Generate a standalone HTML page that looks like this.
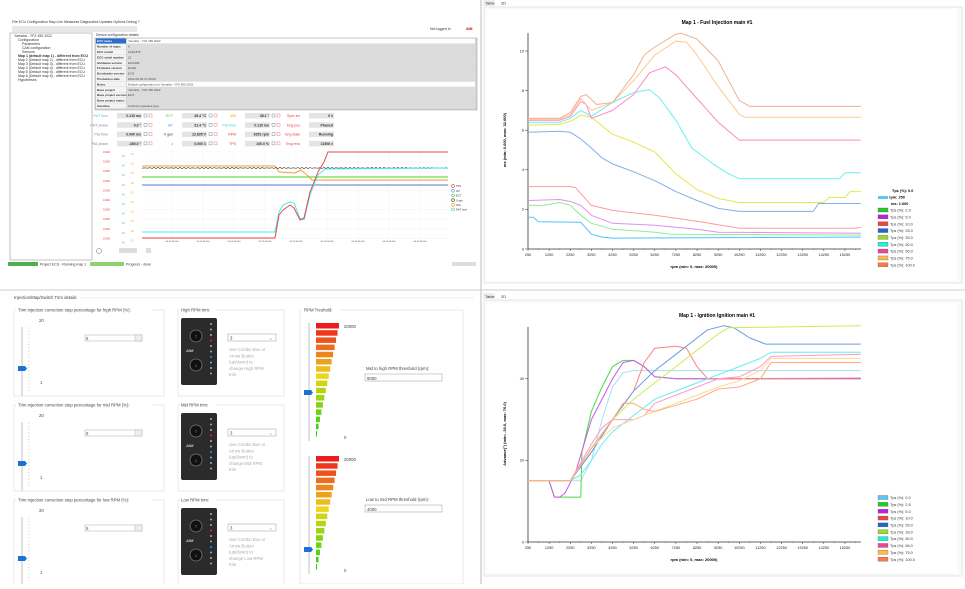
<!DOCTYPE html><html><head><meta charset="utf-8"><style>
body{margin:0;background:#fff;width:965px;height:584px;overflow:hidden;font-family:"Liberation Sans",sans-serif}
svg text{font-family:"Liberation Sans",sans-serif}
</style></head><body>
<svg id="s" width="965" height="584" viewBox="0 0 965 584" xmlns="http://www.w3.org/2000/svg">
<rect width="965" height="584" fill="#fff"/>
<!-- quadrant separators -->
<line x1="481" y1="0" x2="481" y2="584" stroke="#bbb"/>
<line x1="0" y1="290" x2="965" y2="290" stroke="#ccc"/>
<!-- TOP LEFT app -->
<g font-size="3.5" fill="#333">
<text x="12" y="23">File  ECU  Configuration  Map  Live Measures  Diagnostics  Updates  Options  Debug  ?</text>
<rect x="12" y="26" width="125" height="6" fill="#e8e8e8"/>
<text x="430" y="30">Not logged in</text><text x="466" y="30" fill="#d00" font-weight="bold">AIM</text>
<rect x="10" y="33" width="82" height="227" fill="#fff" stroke="#999" stroke-width="0.6"/>
<text x="14" y="37">Yamaha - YFZ 450 2022</text>
<text x="18" y="41">Configuration</text><text x="22" y="45">Parameters</text><text x="22" y="49">CAN configuration</text><text x="22" y="53">Sensors</text>
<text x="18" y="57" font-weight="bold">Map 1 (default map 1) - different from ECU</text>
<text x="18" y="61">Map 2 (Default map 2) - different from ECU</text>
<text x="18" y="65">Map 3 (Default map 3) - different from ECU</text>
<text x="18" y="69">Map 4 (Default map 4) - different from ECU</text>
<text x="18" y="73">Map 5 (Default map 5) - different from ECU</text>
<text x="18" y="77">Map 6 (Default map 6) - different from ECU</text>
<text x="18" y="81">Hypotheses</text>
<text x="96" y="36">Device configuration details</text>
<rect x="95" y="38" width="382" height="72" fill="#d6d6d6" stroke="#999" stroke-width="0.5"/>
</g>
<g id="tbl"></g>
<g id="gau" font-size="3.5"></g>
<g id="tlc"></g>
<g font-size="3.5" fill="#333">
<rect x="8" y="262" width="30" height="4" fill="#4caf50"/><rect x="90" y="262" width="34" height="4" fill="#8fd06f"/>
<text x="40" y="265.5">Project  ECU - Running map 1</text><text x="126" y="265.5">Progress - done</text>
<rect x="452" y="262" width="24" height="4" fill="#ddd"/>
<circle cx="99" cy="251" r="2.5" fill="none" stroke="#666" stroke-width="0.5"/>
<rect x="119" y="248" width="18" height="5" fill="#ddd"/><rect x="146" y="248" width="5" height="5" fill="#ddd"/>
</g>
<!-- TOP RIGHT -->
<rect x="483" y="0" width="12" height="6" fill="#eee"/><text x="485" y="4.5" font-size="4" fill="#333">Table</text><text x="501" y="4.5" font-size="4" fill="#333">2D</text>
<rect x="484" y="7" width="478" height="276" fill="#fafafa" stroke="#e4e4e4"/>
<rect x="487" y="9" width="470" height="272" fill="#fff"/>
<text x="717" y="24" font-size="5" font-weight="bold" text-anchor="middle">Map 1 - Fuel Injection main #1</text>
<text x="694" y="268" font-size="4" font-weight="bold" text-anchor="middle">rpm (min: 0, max: 20000)</text>
<text transform="translate(506,140) rotate(-90)" font-size="4" font-weight="bold" text-anchor="middle">ms (min: 0.000, max: 32.000)</text>
<g id="c1"></g>
<!-- BOTTOM RIGHT -->
<rect x="483" y="293" width="12" height="6" fill="#eee"/><text x="485" y="298" font-size="4" fill="#333">Table</text><text x="501" y="298" font-size="4" fill="#333">2D</text>
<rect x="484" y="300" width="478" height="276" fill="#fafafa" stroke="#e4e4e4"/>
<rect x="487" y="303" width="470" height="270" fill="#fff"/>
<text x="717" y="317" font-size="5" font-weight="bold" text-anchor="middle">Map 1 - Ignition Ignition main #1</text>
<text x="694" y="561" font-size="4" font-weight="bold" text-anchor="middle">rpm (min: 0, max: 20000)</text>
<text transform="translate(506,434) rotate(-90)" font-size="4" font-weight="bold" text-anchor="middle">Advance(°) (min: -30.0, max: 70.0)</text>
<g id="c2"></g>
<!-- BOTTOM LEFT -->
<g id="bl" font-size="4.3" fill="#444"></g>
</svg>
<script>
const NS="http://www.w3.org/2000/svg";
function el(p,t,a,txt){const e=document.createElementNS(NS,t);for(const k in a)e.setAttribute(k,a[k]);if(txt!==undefined)e.textContent=txt;p.appendChild(e);return e;}
const g=id=>document.getElementById(id);
// table
const tb=g('tbl');
const rows=["ECU name","Number of maps","ECU model","ECU serial number","Hardware version","Firmware version","Bootloader version","Production date","Notes","Base project","Base project version","Base project status","Gasoline"];
const vals=["Yamaha - YFZ 450 2022","6","1245-876","12","ECC009","E3.E2","E3.8","2022-05-06 17:26:00","Default configuration for Yamaha - YFZ 450 2022","Yamaha - YFZ 450 2022","E2.6","","Unknown gasoline type"];
rows.forEach((r,i)=>{const y=38.5+i*5.4;
el(tb,'rect',{x:96,y:y,width:30,height:5,fill:i==0?'#2a6fd0':'#f4f4f4'});
el(tb,'rect',{x:127,y:y,width:348,height:5,fill:(i==0||i==8)?'#fff':'#dcdcdc'});
el(tb,'text',{x:97,y:y+3.7,'font-size':3,'font-weight':'bold',fill:i==0?'#fff':'#333'},r);
el(tb,'text',{x:128,y:y+3.7,'font-size':3,fill:'#444'},vals[i]);});
// gauges
const ga=g('gau');
const gl=[["Pk/T time","0.110 ms","ECT","45.4 °C","IGN","38.1 °","Sync err","0 #"],["Pk/T phase","0.0 °","IAT","31.4 °C","Pk2 time","0.110 ms","Eng pos","Phased"],["Pk2 time","0.000 ms","V gen","13.835 V","RPM","6251 rpm","Eng state","Running"],["Pk2 phase","-360.0 °","λ","0.000 λ","TPS","100.0 %","Eng revs","11506 #"]];
const lc=[["#4cc","#888","#888","#888"],["#4c4","#49f","#333","#49f"],["#f90","#4cc","#e33","#e33"],["#e33","#e33","#e33","#e33"]];
gl.forEach((r,i)=>{const y=117+i*9.3;for(let c=0;c<4;c++){const x=[100,165,228,292][c];
el(ga,'text',{x:x+8,y:y,'text-anchor':'end',fill:lc[c][i]},r[c*2]);
el(ga,'rect',{x:x+17,y:y-4,width:c==3?25:25,height:5.5,fill:'#e4e4e4'});
el(ga,'text',{x:x+41,y:y,'text-anchor':'end','font-weight':'bold',fill:'#333'},r[c*2+1]);
if(c<3){el(ga,'rect',{x:x+44,y:y-3,width:3,height:3,fill:'none',stroke:'#668','stroke-width':.4});el(ga,'rect',{x:x+49,y:y-3,width:3,height:3,fill:'none',stroke:'#e66','stroke-width':.4});}}});
// top left chart
const t=g('tlc');
for(let i=0;i<10;i++){const y=152+i*9.6;el(t,'text',{x:110,y:y+1,'font-size':2.5,fill:'#e33','text-anchor':'end'},'10000');el(t,'line',{x1:142,y1:y,x2:448,y2:y,stroke:'#eee','stroke-width':.4});
el(t,'text',{x:122,y:y+1+4,'font-size':2.5,fill:'#4c4'},'40');el(t,'text',{x:131,y:y+1+2,'font-size':2.5,fill:'#f90'},'10');}
for(let i=0;i<9;i++){const x=172+i*31;el(t,'line',{x1:x,y1:150,x2:x,y2:238,stroke:'#eee','stroke-width':.4});el(t,'text',{x:x,y:242,'font-size':2.2,fill:'#444','text-anchor':'middle'},'00:12:00.000');}
const pl=(p,pts,c,w)=>el(p,'polyline',{points:pts,fill:'none',stroke:c,'stroke-width':w||1,'stroke-linejoin':'round'});
pl(t,"142,185 448,185","#5577dd",.9);
pl(t,"142,177 448,177","#66dd55",1.3);
pl(t,"142,166 275,166 279,172 295,173 301,170 307,175 312,180 448,180","#f5a030",1);
let bk="";for(let x=142;x<=448;x+=2)bk+=x+","+(168+Math.sin(x*1.7)*0.7)+" ";pl(t,bk,"#333",.6);
pl(t,"142,232 275,232 279,212 283,205 290,202 294,203 300,218 304,220 310,195 318,175 325,169 448,168","#44eeee",1);
pl(t,"142,238 275,238 279,215 283,210 290,205 294,208 300,220 304,218 310,192 318,172 324,162 328,152 448,152","#ee4444",1);
[["TPS","#e33"],["IAT","#49f"],["ECT","#4c4"],["V gen","#333"],["IGN","#f90"],["Pk/T time","#4cc"]].forEach((l,i)=>{el(t,'circle',{cx:453,cy:186+i*4.7,r:1.4,fill:'none',stroke:l[1],'stroke-width':.6});el(t,'text',{x:456,y:187.2+i*4.7,'font-size':2.6,fill:'#333'},l[0]);});
// charts
function chart(id,x0,yb,ppu,ymin,yticks,ytop,series,legY,legHeader){
 const p=g(id);const X=r=>528+(r-250)*0.02113;const Y=v=>yb-(v-ymin)*ppu;
 el(p,'line',{x1:528,y1:ytop,x2:528,y2:yb,stroke:'#333','stroke-width':.8});
 el(p,'line',{x1:528,y1:yb,x2:861,y2:yb,stroke:'#333','stroke-width':.8});
 for(let r=250;r<=15250;r+=1000){el(p,'line',{x1:X(r),y1:yb,x2:X(r),y2:yb+2,stroke:'#333','stroke-width':.5});el(p,'text',{x:X(r),y:yb+7,'font-size':3.8,'text-anchor':'middle',fill:'#222'},r);}
 for(let r=750;r<=15750;r+=1000)el(p,'line',{x1:X(r),y1:yb,x2:X(r),y2:yb+1,stroke:'#333','stroke-width':.4});
 yticks.forEach(v=>{el(p,'line',{x1:525,y1:Y(v),x2:528,y2:Y(v),stroke:'#333','stroke-width':.5});el(p,'text',{x:524,y:Y(v)+1.3,'font-size':3.8,'text-anchor':'end',fill:'#222'},v);});
 series.forEach(s=>{let pts=s[1].map(q=>X(q[0]).toFixed(1)+","+Y(q[1]).toFixed(1)).join(" ");pl(p,pts,s[0],1);});
 const names=["0.0","2.5","5.0","10.0","25.0","33.0","50.0","66.0","75.0","100.0"];
 const lcol=["#5bc8f0","#22cc22","#bb22dd","#ee4444","#2266cc","#99dd22","#22eedd","#ee4499","#ffbb44","#ff7744"];
 let y=legY;
 if(legHeader){el(p,'rect',{x:878,y:196,width:10,height:3,fill:'#5bc8f0'});
 el(p,'text',{x:892,y:192,'font-size':3.8,'font-weight':'bold'},'Tps (%): 0.0');el(p,'text',{x:889,y:198.5,'font-size':3.8,'font-weight':'bold'},'rpm: 250');el(p,'text',{x:891,y:205,'font-size':3.8,'font-weight':'bold'},'ms: 1.600');}
 for(let i=legHeader?1:0;i<10;i++){const yy=y+(i-(legHeader?1:0))*6.85;el(p,'rect',{x:878,y:yy,width:10,height:4,fill:lcol[i],stroke:'#555','stroke-width':.3});el(p,'text',{x:890,y:yy+3.6,'font-size':3.8,fill:'#333'},'Tps (%): '+names[i]);}
}
const P=a=>{const r=[];for(let i=0;i<a.length;i+=2)r.push([a[i],a[i+1]]);return r;};
chart('c1',528,249,19.8,0,[0,2,4,6,8,10],33,[
["#4fc3f7",P([250,1.6,500,1.6,750,1.38,2750,1.35,3250,0.75,3750,0.6,4250,0.55,16000,0.6])],
["#90ee90",P([250,2.2,1000,2.2,1750,2.35,2250,2.2,2750,1.7,3250,1.3,4250,1.0,6250,0.85,7000,0.75,16000,0.7])],
["#e090f0",P([250,2.45,1750,2.5,2250,2.4,2750,2.2,3250,1.7,4250,1.3,6250,1.2,8250,1.0,9250,0.85,16000,0.8])],
["#ff9a9a",P([250,3.15,2250,3.15,2500,3.1,2750,2.8,3250,2.2,4250,1.95,6250,1.7,8250,1.4,10250,1.05,15750,1.05,16000,1.1])],
["#80b0e8",P([250,5.9,1750,5.95,2250,5.9,2750,5.55,3250,5.1,3750,4.6,4250,4.3,5250,3.9,6250,3.45,7250,2.9,8250,2.45,9250,2.05,10250,1.9,13750,1.9,14000,2.3,16000,2.3])],
["#e6e64d",P([250,6.25,1750,6.3,2250,6.45,2750,6.75,3250,6.65,4250,5.8,5250,5.4,6250,4.9,7250,3.8,8250,3.0,9250,2.55,10250,2.35,14250,2.35,14500,2.6,15250,2.6,15500,2.9,16000,2.9])],
["#66f0f0",P([250,6.4,1750,6.4,2250,6.6,2750,7.0,3250,6.7,4250,7.4,5250,7.9,6000,8.05,6500,7.6,7250,6.5,8000,5.1,9000,4.3,9750,3.8,10250,3.55,15000,3.55,15250,3.85,16000,3.85])],
["#ff88c8",P([250,6.5,1750,6.5,2250,6.7,2750,7.45,3000,7.3,3250,6.6,4250,7.0,5250,7.8,6000,8.9,6750,9.2,7250,8.8,8250,7.6,9250,6.4,10250,5.5,16000,5.5])],
["#ffc890",P([250,6.55,1750,6.55,2250,6.8,2750,7.6,3250,7.0,4250,7.4,5250,8.5,6250,9.8,7250,10.5,7750,10.45,8250,9.8,9250,8.2,10250,6.8,10500,6.65,16000,6.65])],
["#f0b090",P([250,6.6,1750,6.6,2250,6.9,2750,7.7,3000,7.8,3500,7.3,4250,7.4,5250,8.8,5750,9.8,6250,10.2,7250,10.85,7500,10.9,8250,10.6,9250,9.5,9750,8.5,10250,7.5,10750,7.2,16000,7.2])]
],208,true);
chart('c2',528,542,4.08,0,[0,20,40],327,[
["#aaddf5",P([250,15,2750,15,3250,20,3750,30,4250,38,4750,41.5,5250,42,16000,42])],
["#44dd44",P([250,15,1250,15,1500,11,2750,11,2800,22,3250,32,3750,38,4250,43,4750,44.5,5250,44.5,5750,43,6250,40.5,7250,40,16000,40])],
["#cc55ee",P([250,15,1250,15,1500,11,1750,11,2000,12,2500,17,3250,30,4250,40,4750,44,5250,44.5,5750,43,6250,40.5,7250,40,16000,40])],
["#ff8080",P([250,15,2250,15,3250,22,4250,30,5250,37,5750,44,6250,47.5,7250,48,7750,47.5,8250,43,8750,40,16000,40.2])],
["#6a9de0",P([250,15,2250,15,3250,22,4250,30,5250,37,6250,42,7250,46,8250,50,8750,52,9500,53,10000,52.5,10750,50,11500,48.5,16000,48.5])],
["#c8ee55",P([250,15,2250,15,3250,23,4250,30,5250,35,6250,39,7250,43,8250,47,9250,51,9750,52.5,16000,53])],
["#66eeee",P([250,15,2250,15,2750,16.5,3250,20,3750,24,4250,27,5250,31,6250,35,7250,37,8250,39,9250,41,10250,43,11250,45,11750,46.5,16000,46.5])],
["#ff99cc",P([250,15,2250,15,3250,24,3750,28,4250,30,5250,30,5750,31,6250,34,7250,36,8250,38,9250,40,10250,40.5,11250,43,11750,45.5,16000,46])],
["#ffd890",P([250,15,2250,15,3250,23,4250,28,5250,30,6250,32,7250,34,8250,36,9250,38,10250,39.5,11250,42,11750,45,16000,45])],
["#ffaa80",P([250,15,2250,15,3250,23,4250,30,4750,34,5250,34,5750,32.5,6250,32,7250,33.5,8250,35,9250,37.5,10250,38,11250,40,11750,44,16000,44])]
],495.5,false);
// bottom left
const b=g('bl');
el(b,'text',{x:14,y:299},'Injection/Map/Switch Trim details');
el(b,'line',{x1:80,y1:298,x2:474,y2:298,stroke:'#ddd','stroke-width':.5});
const labs=["high","mid","low"],lab2=["High","Mid","Low"];
for(let i=0;i<3;i++){const y0=310+i*95;
 el(b,'rect',{x:14,y:y0,width:150,height:i<2?86:90,fill:'none',stroke:'#ddd','stroke-width':.6});
 el(b,'rect',{x:16,y:y0-3,width:136,height:5,fill:'#fff'});
 el(b,'text',{x:18,y:y0+1.5},'Trim injection correction step percentage for '+labs[i]+' RPM (%):');
 el(b,'line',{x1:22,y1:y0+17,x2:22,y2:y0+86,stroke:'#ccc','stroke-width':1.2});
 for(let k=0;k<20;k++)el(b,'line',{x1:28,y1:y0+18+k*3.3,x2:29.5,y2:y0+18+k*3.3,stroke:'#aaa','stroke-width':.4});
 el(b,'text',{x:39,y:y0+12},'20');el(b,'text',{x:40,y:y0+74},'1');
 el(b,'path',{d:`M18 ${y0+56}h7l2 2.5l-2 2.5h-7z`,fill:'#1a72d8'});
 el(b,'rect',{x:85,y:y0+25,width:57,height:6,fill:'#fff',stroke:'#aaa','stroke-width':.5});
 el(b,'text',{x:86,y:y0+30},'5');el(b,'rect',{x:135,y:y0+25,width:7,height:6,fill:'#eee',stroke:'#aaa','stroke-width':.4});
 // middle
 el(b,'rect',{x:178,y:y0,width:106,height:i<2?86:90,fill:'none',stroke:'#ddd','stroke-width':.6});
 el(b,'rect',{x:180,y:y0-3,width:36,height:5,fill:'#fff'});
 el(b,'text',{x:181,y:y0+1.5},lab2[i]+' RPM trim:');
 el(b,'rect',{x:181,y:y0+8,width:36,height:67,rx:2,fill:'#2b2b2b'});
 el(b,'circle',{cx:196,cy:y0+26,r:6,fill:'#111',stroke:'#777','stroke-width':.8});
 el(b,'circle',{cx:196,cy:y0+55,r:6,fill:'#111',stroke:'#777','stroke-width':.8});
 el(b,'text',{x:196,y:y0+28,'font-size':5,fill:'#ddd','text-anchor':'middle'},'↑');
 el(b,'text',{x:196,y:y0+57,'font-size':5,fill:'#ddd','text-anchor':'middle'},'↓');
 el(b,'text',{x:186,y:y0+42,'font-size':4,fill:'#ccc','font-style':'italic','font-weight':'bold'},'AIM');
 for(let k=0;k<10;k++)el(b,'circle',{cx:211,cy:y0+14+k*5.5,r:1,fill:k==3?'#f22':(k==6?'#29f':'#aaa')});
 el(b,'rect',{x:228,y:y0+24,width:48,height:7,fill:'#fff',stroke:'#999','stroke-width':.5});
 el(b,'text',{x:230,y:y0+29.5},'3');el(b,'text',{x:269,y:y0+29.5,'font-size':4},'⌄');
 ['Use Combo Box or','Arrow Button','(up/down) to','change '+lab2[i]+' RPM','trim'].forEach((s,k)=>el(b,'text',{x:229,y:y0+41+k*6.3,fill:'#aaa'},s));
}
el(b,'rect',{x:300,y:310,width:163,height:274,fill:'none',stroke:'#ddd','stroke-width':.6});
el(b,'rect',{x:302,y:307,width:38,height:5,fill:'#fff'});
el(b,'text',{x:304,y:311.5},'RPM Treshold:');
function ladder(y0,th){
 el(b,'line',{x1:309,y1:y0,x2:309,y2:y0+118,stroke:'#ccc','stroke-width':1.2});
 const n=16;for(let k=0;k<n;k++){const f=k/(n-1);const w=22*(1-f)+1;const y=y0+k*7.2;
 const hue=f*115;el(b,'rect',{x:316,y:y,width:w,height:5.5,fill:`hsl(${hue},85%,${f<.5?52:45}%)`});}
 el(b,'text',{x:344,y:y0+5},'20000');el(b,'text',{x:344,y:y0+116},'0');
 el(b,'path',{d:`M304 ${th}h7l2 2.5l-2 2.5h-7z`,fill:'#1a72d8'});
}
ladder(323,390);ladder(456,547);
el(b,'text',{x:366,y:370},'Mid to high RPM threshold (rpm):');
el(b,'rect',{x:365,y:374,width:77,height:7,fill:'#fff',stroke:'#999','stroke-width':.5});el(b,'text',{x:367,y:380},'8000');
el(b,'text',{x:366,y:501},'Low to mid RPM threshold (rpm):');
el(b,'rect',{x:365,y:505,width:77,height:7,fill:'#fff',stroke:'#999','stroke-width':.5});el(b,'text',{x:367,y:511},'4000');
</script>
</body></html>
